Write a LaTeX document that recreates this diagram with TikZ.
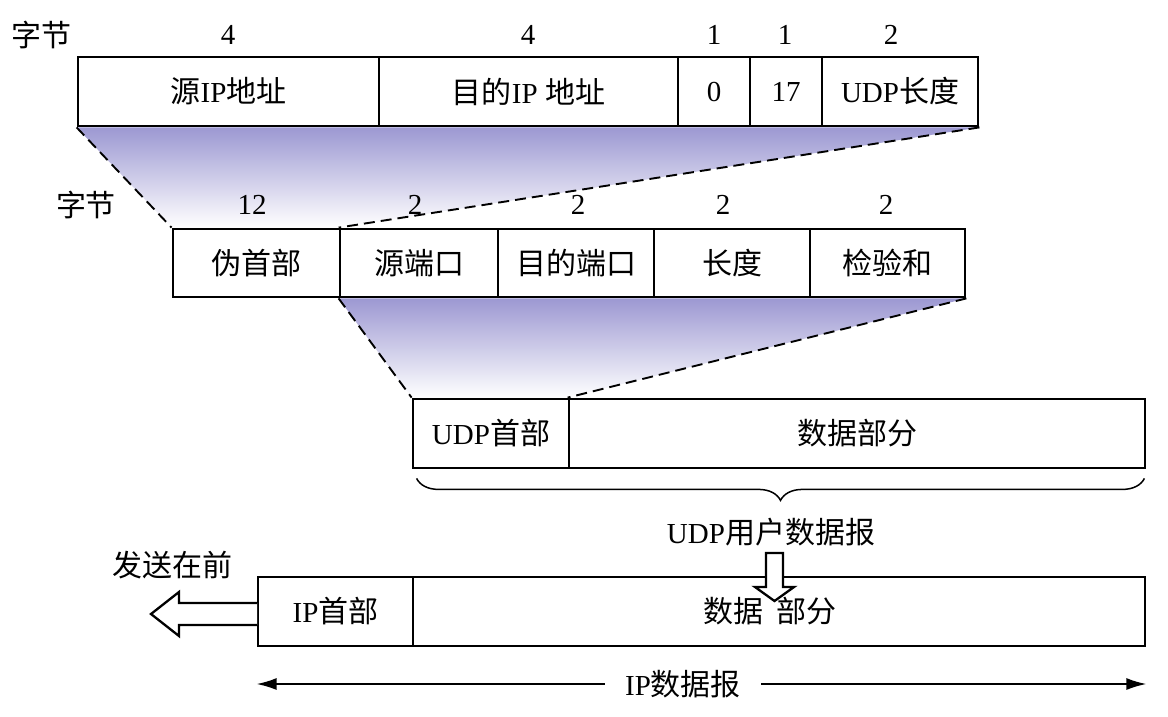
\documentclass[tikz,border=0pt]{standalone}
\usepackage{fontspec}
\setmainfont{Liberation Serif}
\newfontfamily\cjk{Noto Sans CJK SC}
\usetikzlibrary{arrows.meta,decorations.pathreplacing,backgrounds}
\newcommand\C[1]{{\cjk\fontsize{30}{34}\selectfont #1}}
\definecolor{purp}{RGB}{156,152,210}
\begin{document}
\begin{tikzpicture}[x=1pt,y=-1pt,
  cell/.style={draw, line width=2.8pt, minimum height=69pt, inner sep=0pt, font=\fontsize{29}{33}\selectfont},
  lab/.style={inner sep=0pt, font=\fontsize{29}{33}\selectfont},
  dline/.style={line width=1.9pt, dash pattern=on 11pt off 6pt},
  harrow/.style={line width=1.8pt, -{Latex[length=20pt,width=12pt]}},
  blockarrow/.style={line width=2.3pt, fill=white, line join=miter}]
\useasboundingbox (0,0) rectangle (1168,716);

% row 1
\node[lab] (z1) at (42,35) {\C{字节}};
\node[lab] (n11) at (228,35) {4};
\node[lab] (n12) at (528,35) {4};
\node[lab] (n13) at (714,35) {1};
\node[lab] (n14) at (785,35) {1};
\node[lab] (n15) at (891,35) {2};
\node[cell,minimum width=301pt] (a1) at (228.5,91.5) {\C{源}IP\C{地址}};
\node[cell,minimum width=299pt] (a2) at (528.5,91.5) {\C{目的}IP \C{地址}};
\node[cell,minimum width=72pt] (a3) at (714,91.5) {0};
\node[cell,minimum width=72pt] (a4) at (786,91.5) {17};
\node[cell,minimum width=156pt] (a5) at (900,91.5) {UDP\C{长度}};

% row 2
\node[lab] (z2) at (86,205) {\C{字节}};
\node[lab] (n21) at (252,205) {12};
\node[lab] (n22) at (415,205) {2};
\node[lab] (n23) at (578,205) {2};
\node[lab] (n24) at (723,205) {2};
\node[lab] (n25) at (886,205) {2};
\node[cell,minimum width=167pt,minimum height=68pt] (b1) at (256.5,263) {\C{伪首部}};
\node[cell,minimum width=158pt,minimum height=68pt] (b2) at (419,263) {\C{源端口}};
\node[cell,minimum width=156pt,minimum height=68pt] (b3) at (576,263) {\C{目的端口}};
\node[cell,minimum width=156pt,minimum height=68pt] (b4) at (732,263) {\C{长度}};
\node[cell,minimum width=155pt,minimum height=68pt] (b5) at (887.5,263) {\C{检验和}};

% row 3
\node[cell,minimum width=156pt] (c1) at (491,433.5) {UDP\C{首部}};
\node[cell,minimum width=576pt] (c2) at (857,433.5) {\C{数据部分}};

% row 4
\node[cell,minimum width=155pt] (d1) at (335.5,611.5) {IP\C{首部}};
\node[cell,minimum width=732pt] (d2) at (779,611.5) {};
\node[lab] (d2t) at (770,611.5) {\C{数据}\hspace{14pt}\C{部分}};

% shaded funnels
\begin{pgfonlayer}{background}
\shade[top color=purp,bottom color=white] (a1.south west) -- (a5.south east) -- (b2.north west) -- (b1.north west) -- cycle;
\shade[top color=purp,bottom color=white] (b2.south west) -- (b5.south east) -- (c2.north west) -- (c1.north west) -- cycle;
\end{pgfonlayer}
\draw[dline] (a1.south west) -- (b1.north west);
\draw[dline] (a5.south east) -- (b2.north west);
\draw[dline] (b2.south west) -- (c1.north west);
\draw[dline] (b5.south east) -- (c2.north west);

% brace and label
\draw[decorate, decoration={brace, mirror, amplitude=22pt}, line width=1.5pt]
  ([xshift=5pt,yshift=-9pt]c1.south west) -- ([xshift=-2pt,yshift=-9pt]c2.south east);
\node[lab] (u) at (771,532) {UDP\C{用户数据报}};

% down block arrow
\draw[blockarrow] (766,553) -- (783,553) -- (783,587) -- (794,587) -- (774.5,601) -- (755,587) -- (766,587) -- cycle;

% left block arrow
\node[lab] (send) at (172,565) {\C{发送在前}};
\draw[blockarrow] (257,603) -- (179,603) -- (179,592) -- (151,614) -- (179,636) -- (179,625) -- (257,625);

% IP datagram span
\node[lab, fill=white, inner xsep=20pt] (ip) at (683,684) {IP\C{数据报}};
\draw[harrow] (ip.west) -- (ip.west -| d1.west);
\draw[harrow] (ip.east) -- (ip.east -| d2.east);
\end{tikzpicture}
\end{document}
